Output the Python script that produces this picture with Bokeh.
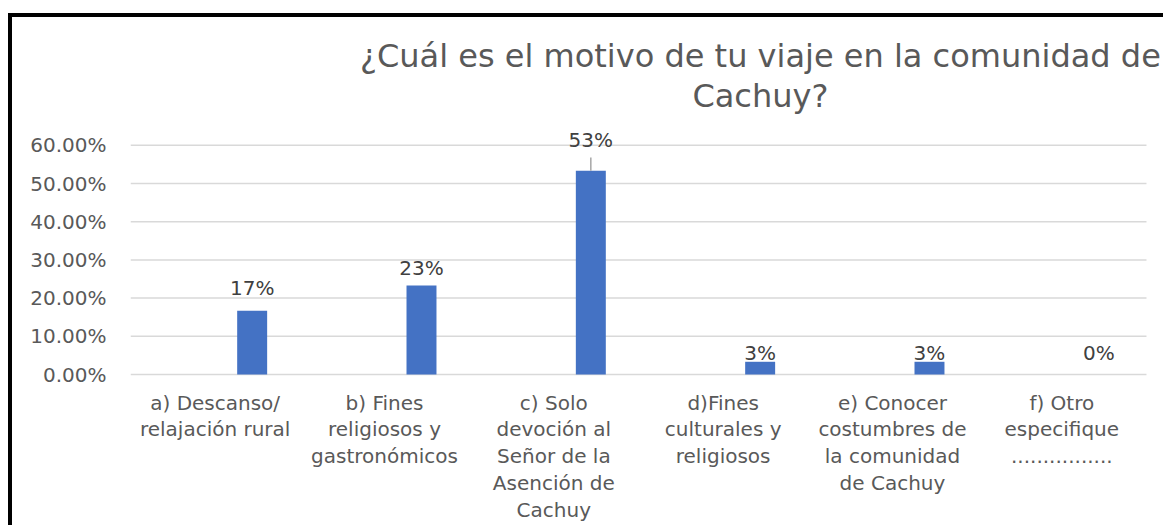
from bokeh.plotting import figure
from bokeh.models import ColumnDataSource, FixedTicker, NumeralTickFormatter, Range1d
from bokeh.core.properties import value
from bokeh.embed import file_html
from bokeh.resources import INLINE

categories = [
    "a) Descanso/\nrelajación rural",
    "b) Fines\nreligiosos y\ngastronómicos",
    "c) Solo\ndevoción al\nSeñor de la\nAsención de\nCachuy",
    "d)Fines\nculturales y\nreligiosos",
    "e) Conocer\ncostumbres de\nla comunidad\nde Cachuy",
    "f) Otro\nespecifique\n................",
]
values = [0.1667, 0.2333, 0.5333, 0.0333, 0.0333, 0.0]
value_labels = ["17%", "23%", "53%", "3%", "3%", "0%"]
label_y = [0.227, 0.280, 0.613, 0.057, 0.057, 0.057]
y_ticks = [0.0, 0.1, 0.2, 0.3, 0.4, 0.5, 0.6]
title_lines = ["¿Cuál es el motivo de tu viaje en la comunidad de", "Cachuy?"]

FONT = "DejaVu Sans"
GRAY = "#595959"

# layout (pixels)
W, H = 1155, 512
LEFT = 118
PX_X = 169.33          # pixels per category
PX_Y = 382.0           # pixels per unit (100%)
ZERO_FROM_TOP = 357    # canvas pixel row of 0%

n = len(categories)
pos = [i + 0.5 for i in range(n)]
bar_pos = [x + 0.2185 for x in pos]

src = ColumnDataSource(dict(x=pos, bx=bar_pos, val=values, lab=value_labels, ly=label_y,
                            cat=categories))

p = figure(width=W, height=H, output_backend="svg", toolbar_location=None,
           x_range=Range1d(0, (W - LEFT) / PX_X),
           y_range=Range1d(-(H - ZERO_FROM_TOP) / PX_Y, ZERO_FROM_TOP / PX_Y),
           min_border_left=LEFT, min_border_right=0, min_border_top=0, min_border_bottom=0)
p.title.visible = False
p.margin = (13, 0, 0, 8)
p.styles = {"border-left": "4px solid black", "border-top": "4px solid black"}
p.outline_line_color = None
p.background_fill_color = "white"
p.border_fill_color = "white"

# gridlines spanning the categories
grid = ColumnDataSource(dict(y=y_ticks, x0=[0] * len(y_ticks), x1=[n] * len(y_ticks)))
p.segment(x0="x0", x1="x1", y0="y", y1="y", source=grid, line_color="#d9d9d9", line_width=1.5)

p.vbar(x="bx", top="val", width=0.177, source=src, fill_color="#4472C4", line_color=None)

# leader line for the 53% label
lead = ColumnDataSource(dict(x=[bar_pos[2]], y0=[values[2]], y1=[values[2] + 0.035]))
p.segment(x0="x", x1="x", y0="y0", y1="y1", source=lead, line_color="#a6a6a6", line_width=1.5)

# data labels
p.text(x="bx", y="ly", text="lab", source=src, text_align="center", text_baseline="alphabetic",
       text_font=value(FONT), text_font_size="20px", text_color="#404040")

# category labels
p.text(x="x", y=-0.042, text="cat", source=src, text_align="center", text_baseline="top",
       text_font=value(FONT), text_font_size="20px", text_color=GRAY, text_line_height=1.12)

# title
tsrc = ColumnDataSource(dict(x=[3.72, 3.72], y=[0.835, 0.728], t=title_lines))
p.text(x="x", y="y", text="t", source=tsrc, text_align="center", text_baseline="middle",
       text_font=value(FONT), text_font_size="32px", text_color=GRAY)

# axes
p.xaxis.visible = False
p.yaxis.ticker = FixedTicker(ticks=y_ticks)
p.yaxis.formatter = NumeralTickFormatter(format="0.00%")
p.yaxis.axis_line_color = None
p.yaxis.major_tick_line_color = None
p.yaxis.minor_tick_line_color = None
p.yaxis.major_label_standoff = 18
p.yaxis.major_label_text_font = FONT
p.yaxis.major_label_text_font_size = "20px"
p.yaxis.major_label_text_color = GRAY

p.xgrid.grid_line_color = None
p.ygrid.grid_line_color = None

open("out.html", "w").write(file_html(p, INLINE))
